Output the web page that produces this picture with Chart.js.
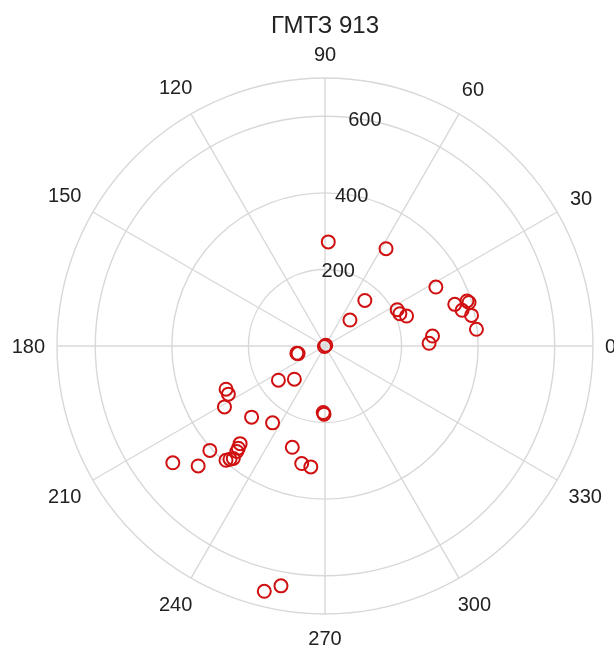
<!DOCTYPE html>
<html>
<head>
<meta charset="utf-8">
<script src="https://cdn.jsdelivr.net/npm/chart.js@4"></script>
<style>
body{margin:0;background:#fff;}
</style>
</head>
<body>
<canvas id="polar" width="614" height="651"></canvas>
<script>
// chart title and axis setup
const chartTitle = 'ГМТЗ 913'
const rMax = 700
const rTicks = [200, 400, 600]
const thetaTicks = [0, 30, 60, 90, 120, 150, 180, 210, 240, 270, 300, 330]
const rLabelAngle = 80

// measurements: angle in degrees, radius
const thetaDeg = [88.2, 57.9, 48.8, 46.1, 45, 225, 26.7, 23.3, 20.2, 28, 17.8, 17.6, 16.8, 14.6, 11.8, 6.3, 5.3, 1.5,
	195.8, 194.5, 216.3, 227.3, 203.6, 206.5, 211.2, 224.1, 235.7, 268.5, 269.2, 222.2, 229, 229.7, 230.1,
	229.1, 230, 230.8, 217.5, 223.4, 252.1, 258.8, 263.3, 256.1, 259.6]
const rValues = [272, 300, 158, 94, 3, 2, 211, 213, 227, 328, 356, 389, 393, 370, 391, 398, 282, 272,
	73, 76, 151, 118, 282, 282, 307, 267, 243, 174, 178, 406, 338, 350, 359,
	395, 386, 379, 501, 456, 278, 313, 318, 660, 637]

const gridColor = '#d8d8d8'
const textColor = '#222222'
const markColor = '#d01010'

let toXY = ()=>thetaDeg.map((t,i)=>{
	let a = t*Math.PI/180
	return {x: rValues[i]*Math.cos(a), y: rValues[i]*Math.sin(a)}
})

let polarGrid = {
	id: 'polarGrid',
	beforeDatasetsDraw: (chart)=>{
		let ctx = chart.ctx
		let xs = chart.scales.x, ys = chart.scales.y
		let cx = xs.getPixelForValue(0), cy = ys.getPixelForValue(0)
		let k = xs.getPixelForValue(1) - cx
		let R = rMax*k
		ctx.save()
		ctx.strokeStyle = gridColor
		ctx.lineWidth = 1.4
		rTicks.concat([rMax]).forEach(r=>{
			ctx.beginPath()
			ctx.arc(cx, cy, r*k, 0, Math.PI*2)
			ctx.stroke()
		})
		thetaTicks.forEach(t=>{
			let a = t*Math.PI/180
			ctx.beginPath()
			ctx.moveTo(cx, cy)
			ctx.lineTo(cx + R*Math.cos(a), cy - R*Math.sin(a))
			ctx.stroke()
		})
		// angle labels outside the outer ring
		ctx.fillStyle = textColor
		ctx.font = '20px "Liberation Sans", Arial, sans-serif'
		ctx.textAlign = 'center'
		ctx.textBaseline = 'middle'
		thetaTicks.forEach(t=>{
			let a = t*Math.PI/180
			let txt = String(t)
			let hw = ctx.measureText(txt).width/2, hh = 12
			let d = R + 12 + hw*Math.abs(Math.cos(a)) + hh*Math.abs(Math.sin(a))
			ctx.fillText(txt, cx + d*Math.cos(a), cy - d*Math.sin(a) + 1)
		})
		// radius labels
		let ra = rLabelAngle*Math.PI/180
		rTicks.forEach(r=>{
			ctx.fillText(String(r), cx + r*k*Math.cos(ra), cy - r*k*Math.sin(ra) + 1)
		})
		// title
		ctx.font = '24px "Liberation Sans", Arial, sans-serif'
		ctx.fillText(chartTitle, cx, 26)
		ctx.restore()
	}
}

new Chart(document.getElementById('polar'), {
	type: 'scatter',
	data: {
		datasets: [{
			data: toXY(),
			pointStyle: 'circle',
			pointRadius: 6.5,
			pointBorderWidth: 2,
			borderColor: markColor,
			backgroundColor: 'rgba(0,0,0,0)'
		}]
	},
	options: {
		responsive: false,
		animation: false,
		layout: {padding: {left: 57, right: 21, top: 78, bottom: 37}},
		plugins: {legend: {display: false}, tooltip: {enabled: false}},
		scales: {
			x: {display: false, min: -rMax, max: rMax},
			y: {display: false, min: -rMax, max: rMax}
		}
	},
	plugins: [polarGrid]
})
</script>
</body>
</html>
